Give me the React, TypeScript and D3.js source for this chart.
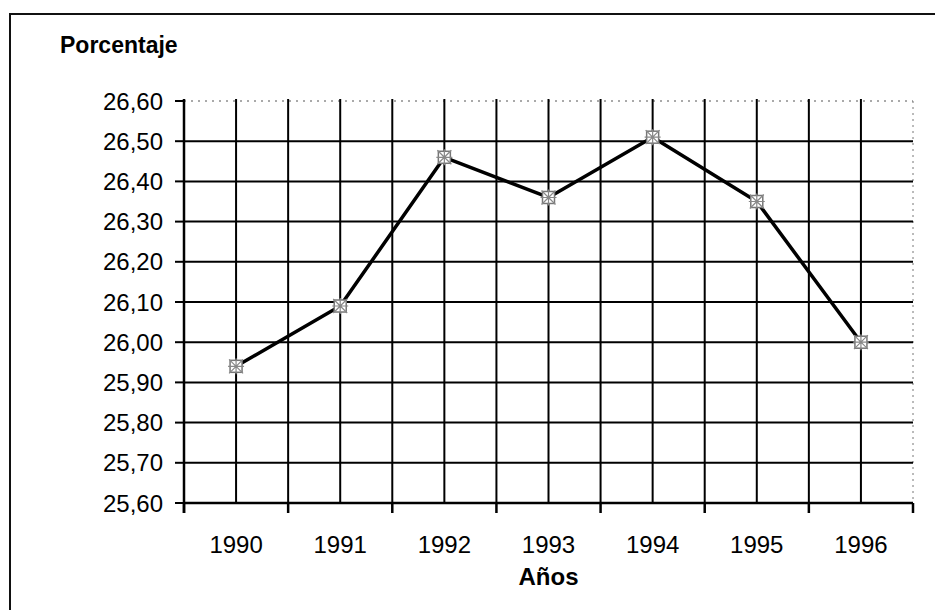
import * as d3 from 'd3';

const years = ['1990', '1991', '1992', '1993', '1994', '1995', '1996'];
const porcentaje = [25.94, 26.09, 26.46, 26.36, 26.51, 26.35, 26.0];
const yTicks = [25.6, 25.7, 25.8, 25.9, 26.0, 26.1, 26.2, 26.3, 26.4, 26.5, 26.6];

const FONT = '"Liberation Sans", Arial, sans-serif';

export default function App() {
  const width = 935;
  const height = 610;
  const left = 184;
  const right = 913;
  const top = 101;
  const bottom = 503;

  const x = d3.scaleBand<string>().domain(years).range([left, right]).padding(0);
  const y = d3.scaleLinear().domain([25.6, 26.6]).range([bottom, top]);
  const bw = x.bandwidth();

  // vertical grid at every band edge and band centre
  const vLines: number[] = [];
  years.forEach((yr) => {
    vLines.push(x(yr)!);
    vLines.push(x(yr)! + bw / 2);
  });
  vLines.push(right);

  const line = d3
    .line<number>()
    .x((_, i) => x(years[i])! + bw / 2)
    .y((d) => y(d));

  const fmt = (v: number) => v.toFixed(2).replace('.', ',');

  return (
    <svg
      width={width}
      height={height}
      style={{ position: 'absolute', left: 0, top: 0, background: '#fff' }}
    >
      {/* frame */}
      <rect x={10} y={14} width={940} height={620} fill="none" stroke="#111" strokeWidth={2} />

      <text x={60} y={53} fontFamily={FONT} fontWeight="bold" fontSize={23} fill="#000">
        Porcentaje
      </text>

      {/* top and right edges, faint dotted */}
      <line x1={left} x2={right} y1={top} y2={top} stroke="#555" strokeWidth={1} strokeDasharray="2 5" />
      <line x1={right} x2={right} y1={top} y2={bottom} stroke="#777" strokeWidth={1} strokeDasharray="2 4" />

      {/* horizontal grid */}
      {yTicks.slice(1, -1).map((t) => (
        <line key={t} x1={left} x2={right} y1={y(t)} y2={y(t)} stroke="#000" strokeWidth={2} />
      ))}

      {/* vertical grid */}
      {vLines.slice(1, -1).map((v, i) => (
        <line key={i} x1={v} x2={v} y1={top - 2} y2={bottom} stroke="#000" strokeWidth={2} />
      ))}

      {/* axes */}
      <line x1={left} x2={left} y1={top - 2} y2={bottom + 10} stroke="#000" strokeWidth={2.5} />
      <line x1={left} x2={right} y1={bottom} y2={bottom} stroke="#000" strokeWidth={2.5} />

      {yTicks.map((t) => (
        <g key={t}>
          <line x1={left - 9} x2={left} y1={y(t)} y2={y(t)} stroke="#000" strokeWidth={2} />
          <text
            x={163}
            y={y(t)}
            dy="0.36em"
            textAnchor="end"
            fontFamily={FONT}
            fontSize={24}
            fill="#000"
          >
            {fmt(t)}
          </text>
        </g>
      ))}

      {vLines.filter((_, i) => i % 2 === 0).map((v, i) => (
        <line key={i} x1={v} x2={v} y1={bottom} y2={bottom + 10} stroke="#000" strokeWidth={2.5} />
      ))}

      {years.map((yr) => (
        <text
          key={yr}
          x={x(yr)! + bw / 2}
          y={553}
          textAnchor="middle"
          fontFamily={FONT}
          fontSize={24}
          fill="#000"
        >
          {yr}
        </text>
      ))}

      <text
        x={(left + right) / 2}
        y={585}
        textAnchor="middle"
        fontFamily={FONT}
        fontWeight="bold"
        fontSize={24}
        fill="#000"
      >
        Años
      </text>

      {/* series */}
      <path d={line(porcentaje)!} fill="none" stroke="#000" strokeWidth={3.5} strokeLinejoin="round" />
      {porcentaje.map((v, i) => {
        const cx = x(years[i])! + bw / 2;
        const cy = y(v);
        return (
          <g key={i} transform={`translate(${cx},${cy})`}>
            <rect x={-6} y={-6} width={12} height={12} fill="#fff" stroke="#777" strokeWidth={1.5} />
            <path d="M-7,-7L7,7M7,-7L-7,7M0,-8V8M-8,0H8" stroke="#888" strokeWidth={1.2} />
          </g>
        );
      })}
    </svg>
  );
}
